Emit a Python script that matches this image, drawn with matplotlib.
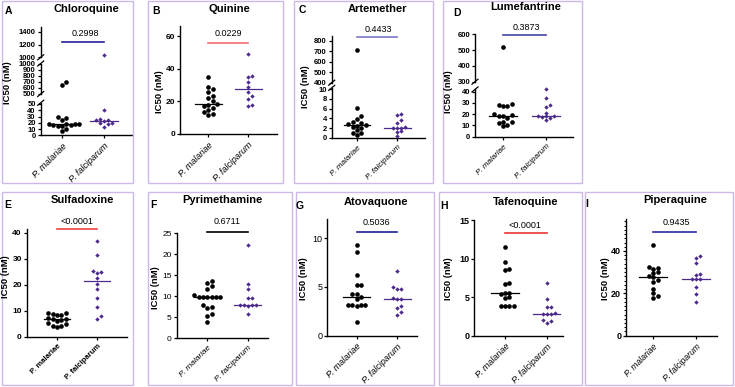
import numpy as np
import matplotlib
matplotlib.use('Agg')
import matplotlib.pyplot as plt
from matplotlib.patches import Rectangle
from matplotlib.lines import Line2D
from matplotlib.ticker import MultipleLocator
from matplotlib.transforms import blended_transform_factory

plt.rcParams['font.family'] = ['Liberation Sans', 'DejaVu Sans']

# IC50 values (nM), P. malariae (pm) / P. falciparum (pf)
groups = ['P. malariae', 'P. falciparum']

chq_pm = [7, 10.7, 14.5, 15, 16.5, 17, 17.5, 17.7, 18, 18.2, 24, 27, 29.6, 640, 695]
chq_pf = [14, 18, 19, 20, 23, 24, 25, 26, 40, 1035]

qn_pm = [11.5, 12, 13.5, 15, 16, 17, 18, 18.5, 20, 22, 23, 25.5, 27.5, 29, 35]
qn_pf = [17, 17.5, 21.5, 23.5, 26, 29, 32, 35, 35.5, 49]

atm_pm = [0.6, 0.9, 1.0, 1.6, 2.0, 2.3, 2.5, 2.6, 2.8, 3.0, 3.3, 3.8, 4.5, 6.2, 710]
atm_pf = [0.4, 1.2, 1.3, 2.0, 2.0, 2.1, 2.2, 3.0, 3.7, 4.7, 4.8]

lum_pm = [9.5, 10.5, 12, 13, 13.5, 16.5, 18, 18.5, 19.5, 20, 27, 27.5, 28.5, 29.5, 520]
lum_pf = [14.5, 17, 17.5, 18, 18, 18.5, 21.5, 26, 28, 34, 42]

sdx_pm = [3.8, 4.0, 4.1, 5.0, 5.2, 6.0, 6.3, 6.8, 7.0, 7.1, 8.3, 8.5, 8.8, 9.2, 9.3]
sdx_pf = [6.8, 7.8, 11.5, 15, 18.2, 20.3, 22.4, 24.5, 24.7, 25.1, 31.4, 36.7]

pyr_pm = [3.8, 5.4, 5.8, 7.2, 7.4, 7.9, 9.8, 9.8, 9.8, 9.8, 9.8, 9.8, 10.2, 11.7, 12.5, 13.1, 13.7]
pyr_pf = [5.9, 7.8, 7.9, 7.9, 7.9, 8.0, 9.6, 9.7, 11.7, 12.9, 22.2]

atq_pm = [1.4, 3.1, 3.15, 3.2, 3.2, 3.2, 3.8, 4.0, 4.3, 4.3, 5.2, 5.2, 6.2, 8.6, 9.3]
atq_pf = [2.1, 2.4, 2.8, 3.0, 3.8, 3.8, 3.9, 4.8, 4.8, 5.0, 6.6]

tfq_pm = [3.8, 3.8, 3.85, 3.9, 4.9, 5.0, 5.4, 5.5, 5.6, 6.7, 6.8, 8.5, 8.7, 9.5, 11.5]
tfq_pf = [1.6, 1.9, 2.0, 2.8, 2.8, 2.85, 2.9, 3.7, 3.7, 4.8, 6.8]

ppq_pm = [17.8, 18.8, 20.0, 22.0, 25.5, 26.5, 27.5, 28, 29.5, 30.0, 31.5, 32.0, 32.3, 42.8]
ppq_pf = [15.7, 19.5, 23.1, 26.8, 27, 27, 28.7, 29, 34.2, 36.5, 37.6]

# colours
PURPLE = '#4b2a8c'
NAVY = '#23239a'
BORDER = '#cdb8e8'

W, H = 735, 387
fig = plt.figure(figsize=(W / 100, H / 100), dpi=100)


def fx(px):
    return px / W


def fy(py):
    return 1 - py / H


# panel layout, everything in pixels of the 735x387 picture
# segs: (ylo, yhi, pixel row of ylo, pixels per unit, ticks), bottom segment first
panels = [
    dict(letter='A', title='Chloroquine', pm=chq_pm, pf=chq_pf, p='0.2998', pcol=NAVY,
         spine=40.7, rend=131.7, x0=62, sp=42.3, box=(2, 1, 133, 183),
         segs=[(0, 52, 135.3, 0.626, [0, 10, 20, 30, 40, 50]),
               (500, 1000, 94, 0.061, [500, 600, 700, 800, 900, 1000]),
               (1000, 1480, 57.3, 0.064, [1000, 1200, 1400])],
         lpos=(5, 11), tpos=(86, 9), ppos=(85, 33), ly=41.7, ypos=(7.5, 83),
         tsize=5.5, xsize=6.5, tbold=True, xstyle='italic'),
    dict(letter='B', title='Quinine', pm=qn_pm, pf=qn_pf, p='0.0229', pcol='#f07070',
         spine=180, rend=277, x0=208.3, sp=40, box=(148, 1, 283, 183),
         segs=[(0, 66, 134, 1.633, [0, 20, 40, 60])],
         lpos=(152, 11), tpos=(229, 9.5), ppos=(228, 33), ly=42.7, ypos=(160, 92),
         tsize=6, xsize=6.5, tbold=True, xstyle='italic'),
    dict(letter='C', title='Artemether', pm=atm_pm, pf=atm_pf, p='0.4433', pcol='#7878c8',
         spine=331.7, rend=425, x0=357, sp=40.3, box=(294, 1, 433, 183),
         segs=[(0, 10.3, 137.7, 4.84, [0, 2, 4, 6, 8, 10]),
               (400, 845, 82.7, 0.105, [400, 500, 600, 700, 800])],
         lpos=(299, 10), tpos=(377, 9.5), ppos=(378, 29), ly=37.3, ypos=(306, 87),
         tsize=5.5, xsize=5.8, tbold=True, xstyle='italic'),
    dict(letter='D', title='Lumefantrine', pm=lum_pm, pf=lum_pf, p='0.3873', pcol='#4646a8',
         spine=475, rend=573, x0=503, sp=43, box=(443, 1, 582, 183),
         segs=[(0, 42, 136.7, 1.125, [0, 10, 20, 30, 40]),
               (300, 605, 81.7, 0.158, [300, 400, 500, 600])],
         lpos=(453, 12.7), tpos=(526, 7), ppos=(526, 27.7), ly=35, ypos=(448, 92),
         tsize=5.5, xsize=5.8, tbold=True, xstyle='italic'),
    dict(letter='E', title='Sulfadoxine', pm=sdx_pm, pf=sdx_pf, p='<0.0001', pcol='#ee4444',
         spine=26.7, rend=126.7, x0=57, sp=40, box=(2, 192, 133, 385),
         segs=[(0, 41.5, 336.7, 2.6, [0, 10, 20, 30, 40])],
         lpos=(4, 205), tpos=(82, 200), ppos=(77, 221.7), ly=229, ypos=(6, 277),
         tsize=6, xsize=5.5, tbold=True, xstyle='normal'),
    dict(letter='F', title='Pyrimethamine', pm=pyr_pm, pf=pyr_pf, p='0.6711', pcol='black',
         spine=176.7, rend=268, x0=207.3, sp=40.4, box=(148, 192, 292, 385),
         segs=[(0, 25, 338.3, 4.2, [0, 5, 10, 15, 20, 25])],
         lpos=(150, 205), tpos=(222, 200), ppos=(227, 221.7), ly=231.7, ypos=(156, 288),
         tsize=6, xsize=6, tbold=False, xstyle='italic'),
    dict(letter='G', title='Atovaquone', pm=atq_pm, pf=atq_pf, p='0.5036', pcol='#1f1f96',
         spine=327.3, rend=416.7, x0=356.7, sp=40.6, box=(296, 192, 434, 385),
         segs=[(0, 12, 335.7, 9.74, [0, 5, 10])],
         lpos=(296, 206), tpos=(376, 202), ppos=(376, 222.3), ly=231.7, ypos=(303, 279),
         tsize=6.5, xsize=6.5, tbold=False, xstyle='italic'),
    dict(letter='H', title='Tafenoquine', pm=tfq_pm, pf=tfq_pf, p='<0.0001', pcol='#ee3333',
         spine=474.3, rend=563, x0=505, sp=41.5, box=(439, 192, 582, 385),
         segs=[(0, 15, 335.7, 7.71, [0, 5, 10, 15])],
         lpos=(440, 206), tpos=(526, 202), ppos=(525, 225), ly=232.7, ypos=(448, 279),
         tsize=6.5, xsize=6.5, tbold=True, xstyle='italic'),
    dict(letter='I', title='Piperaquine', pm=ppq_pm, pf=ppq_pf, p='0.9435', pcol='#2a2aa0',
         spine=626, rend=716.7, x0=653.3, sp=42.4, box=(585, 192, 733, 385),
         segs=[(0, 55, 335.7, 2.1175, [0, 20, 40])],
         lpos=(585, 204), tpos=(675, 200), ppos=(676, 222.3), ly=231.7, ypos=(605, 279),
         tsize=6.5, xsize=6.2, tbold=True, xstyle='italic', minor=2),
]


def swarm_x(ax, x0, ys, d):
    """ spread points sideways so that markers stay d pixels apart """
    ys = np.asarray(ys, float)
    xs = np.full(len(ys), float(x0))
    if len(ys) == 0:
        return xs
    py = ax.transData.transform(np.column_stack([xs, ys]))[:, 1]
    ppu = ax.transData.transform((1, 0))[0] - ax.transData.transform((0, 0))[0]
    placed = []
    for i in np.argsort(ys):
        k = 0
        while True:
            cands = [0.0] if k == 0 else [k * d, -k * d]
            ok = None
            for off in cands:
                if all((off - a) ** 2 + (py[i] - b) ** 2 >= (0.95 * d) ** 2 for a, b in placed):
                    ok = off
                    break
            if ok is not None:
                placed.append((ok, py[i]))
                xs[i] = x0 + ok / ppu
                break
            k += 1
    return xs


def break_mark(xpx, ypx):
    fig.add_artist(Line2D([fx(xpx - 3), fx(xpx + 3)], [fy(ypx + 2.5), fy(ypx - 2.5)],
                          transform=fig.transFigure, color='black', lw=0.9))


def draw_panel(s):
    # light purple frame round the panel
    x1, y1, x2, y2 = s['box']
    fig.add_artist(Rectangle((fx(x1), fy(y2)), (x2 - x1) / W, (y2 - y1) / H,
                             transform=fig.transFigure, fill=False, ec=BORDER, lw=1.0))
    xlim = ((s['spine'] - s['x0']) / s['sp'], (s['rend'] - s['x0']) / s['sp'])
    axes = []
    nseg = len(s['segs'])
    for k, (ylo, yhi, p0, scale, ticks) in enumerate(s['segs']):
        top = p0 - (yhi - ylo) * scale
        ax = fig.add_axes([fx(s['spine']), fy(p0), (s['rend'] - s['spine']) / W, (p0 - top) / H])
        ax.set_facecolor('none')
        ax.set_xlim(*xlim)
        ax.set_ylim(ylo, yhi)
        ax.spines['top'].set_visible(False)
        ax.spines['right'].set_visible(False)
        ax.spines['left'].set_linewidth(1.0)
        ax.set_yticks(ticks)
        ax.tick_params(axis='y', length=2.5, width=0.9, labelsize=s['tsize'], pad=1)
        if 'minor' in s:
            ax.yaxis.set_minor_locator(MultipleLocator(s['minor']))
            ax.tick_params(axis='y', which='minor', length=1.5, width=0.7)
        if k == 0:
            ax.spines['bottom'].set_linewidth(1.0)
            ax.set_xticks([0, 1])
            ax.set_xticklabels(groups, rotation=45, ha='right', rotation_mode='anchor',
                               fontsize=s['xsize'], style=s['xstyle'],
                               fontweight='bold' if s['xstyle'] == 'normal' else 'normal')
            ax.tick_params(axis='x', length=2.5, width=0.9, pad=2)
        else:
            ax.spines['bottom'].set_visible(False)
            ax.set_xticks([])
        if s['tbold']:
            for lbl in ax.get_yticklabels():
                lbl.set_fontweight('bold')
        # axis break marks
        if k > 0:
            break_mark(s['spine'], p0)
        if k < nseg - 1:
            break_mark(s['spine'], top)
        axes.append(ax)

    # points and medians
    for j, (vals, col, mk, size, d) in enumerate([(s['pm'], 'black', 'o', 11, 4.3),
                                                   (s['pf'], PURPLE, 'D', 5, 4.0)]):
        vals = np.asarray(vals, float)
        for ax, (ylo, yhi, p0, scale, ticks) in zip(axes, s['segs']):
            sel = vals[(vals >= ylo) & (vals <= yhi)]
            xs = swarm_x(ax, j, sel, d)
            ax.scatter(xs, sel, s=size, marker=mk, color=col, lw=0, clip_on=False, zorder=3)
        med = np.median(vals)
        for ax, (ylo, yhi, p0, scale, ticks) in zip(axes, s['segs']):
            if ylo <= med <= yhi:
                ax.plot([j - 0.33, j + 0.33], [med, med], color=col, lw=0.9, zorder=4)

    # p-value bar and text
    trans = blended_transform_factory(axes[0].transData, fig.transFigure)
    axes[0].plot([0, 1], [fy(s['ly'])] * 2, transform=trans, color=s['pcol'], lw=1.2, clip_on=False)
    fig.text(fx(s['ppos'][0]), fy(s['ppos'][1]), s['p'], ha='center', va='center', fontsize=6.5)

    fig.text(fx(s['lpos'][0]), fy(s['lpos'][1]), s['letter'], ha='left', va='center',
             fontsize=7.5, fontweight='bold')
    fig.text(fx(s['tpos'][0]), fy(s['tpos'][1]), s['title'], ha='center', va='center',
             fontsize=8, fontweight='bold')
    fig.text(fx(s['ypos'][0]), fy(s['ypos'][1]), 'IC50 (nM)', ha='center', va='center',
             rotation=90, fontsize=6.8, fontweight='bold')


for s in panels:
    draw_panel(s)

fig.savefig('out.png', dpi=100, facecolor='white')
